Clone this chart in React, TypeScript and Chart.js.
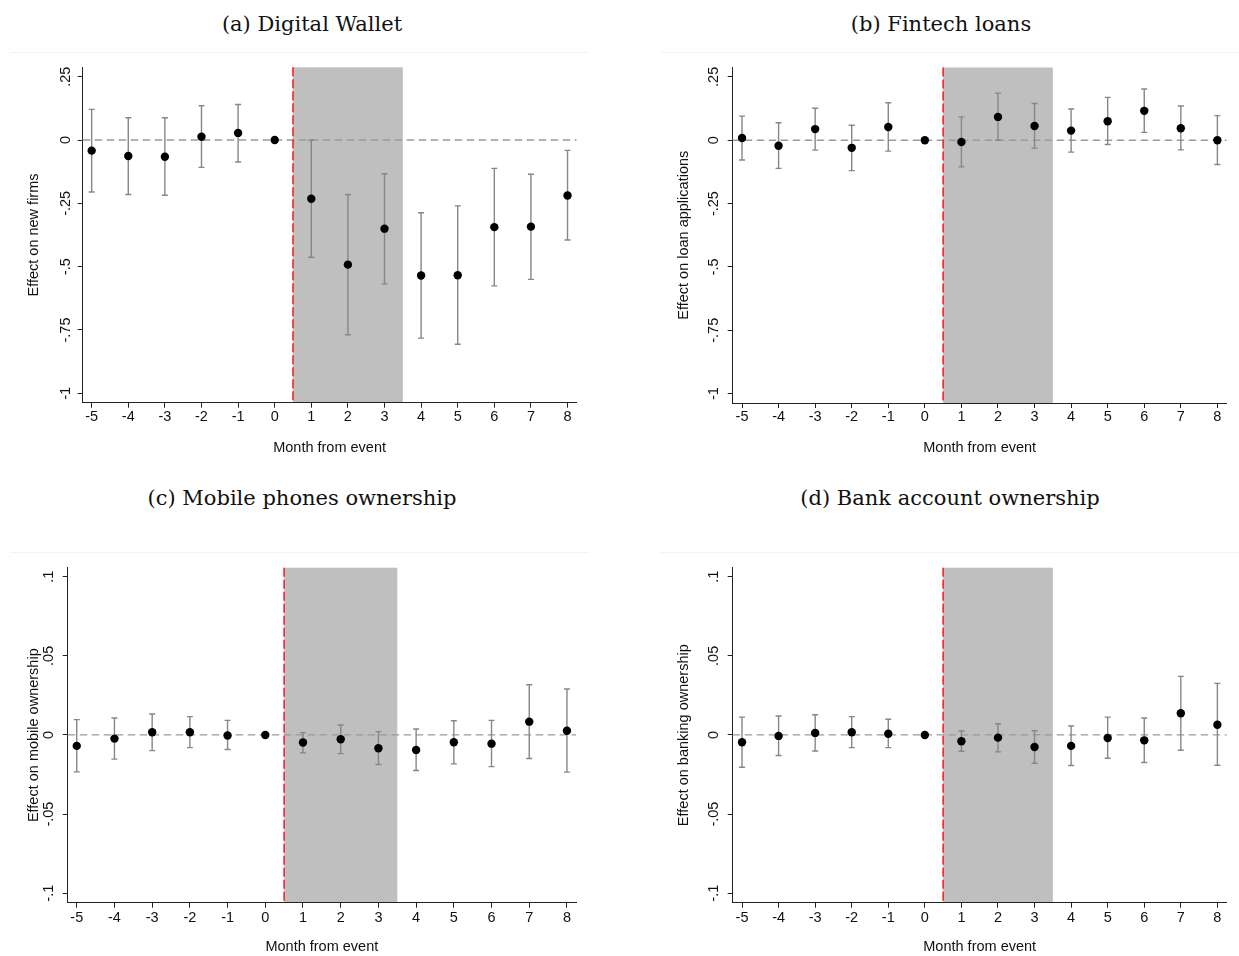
import React, { useEffect, useRef } from "react";
import { Chart, registerables } from "chart.js";

Chart.register(...registerables);

// ---------- data ----------
const months = [-5, -4, -3, -2, -1, 0, 1, 2, 3, 4, 5, 6, 7, 8];
const monthLabels = ["-5", "-4", "-3", "-2", "-1", "0", "1", "2", "3", "4", "5", "6", "7", "8"];
const shadeStart = 0.5;
const shadeEnd = 3.5;
const eventMonth = 0.5;

const yTicksWide = [0.25, 0, -0.25, -0.5, -0.75, -1];
const yTickLabelsWide = [".25", "0", "-.25", "-.5", "-.75", "-1"];
const yTicksNarrow = [0.1, 0.05, 0, -0.05, -0.1];
const yTickLabelsNarrow = [".1", ".05", "0", "-.05", "-.1"];

const walletCoef = [-0.042, -0.063, -0.066, 0.013, 0.028, 0, -0.232, -0.492, -0.35, -0.535, -0.534, -0.344, -0.342, -0.219];
const walletLower = [-0.205, -0.215, -0.218, -0.108, -0.087, null, -0.463, -0.769, -0.568, -0.782, -0.806, -0.576, -0.55, -0.395];
const walletUpper = [0.121, 0.088, 0.088, 0.135, 0.14, null, -0.001, -0.215, -0.133, -0.287, -0.26, -0.112, -0.135, -0.041];

const loanCoef = [0.009, -0.022, 0.044, -0.03, 0.052, 0, -0.007, 0.092, 0.056, 0.038, 0.075, 0.116, 0.047, 0.0];
const loanLower = [-0.078, -0.111, -0.039, -0.12, -0.043, null, -0.105, 0.0, -0.031, -0.047, -0.017, 0.031, -0.038, -0.096];
const loanUpper = [0.095, 0.069, 0.126, 0.059, 0.148, null, 0.092, 0.186, 0.145, 0.123, 0.169, 0.202, 0.135, 0.097];

const mobileCoef = [-0.0069, -0.0023, 0.0017, 0.0017, -0.0003, 0, -0.0048, -0.0027, -0.0084, -0.0095, -0.0046, -0.0055, 0.0084, 0.0027];
const mobileLower = [-0.0233, -0.0153, -0.0099, -0.008, -0.0092, null, -0.0113, -0.0118, -0.0187, -0.0225, -0.0183, -0.02, -0.0149, -0.0235];
const mobileUpper = [0.0097, 0.0107, 0.0132, 0.0116, 0.0092, null, 0.0015, 0.0063, 0.0021, 0.0038, 0.009, 0.0092, 0.0317, 0.029];

const bankCoef = [-0.0046, -0.0006, 0.0013, 0.0017, 0.0008, 0, -0.004, -0.0017, -0.0076, -0.0069, -0.0019, -0.0034, 0.0137, 0.0065];
const bankLower = [-0.0204, -0.013, -0.0101, -0.008, -0.008, null, -0.0103, -0.0107, -0.0179, -0.0193, -0.0147, -0.0174, -0.0097, -0.0191];
const bankUpper = [0.0113, 0.012, 0.0128, 0.0116, 0.0099, null, 0.0025, 0.0071, 0.0027, 0.0057, 0.0113, 0.0107, 0.037, 0.0326];

// ---------- styling / layout ----------
const SANS = '"Liberation Sans", Arial, sans-serif';
const SERIF = '"DejaVu Serif", serif';
const TICK_SIZE = 14.5;
const LABEL_SIZE = 14.5;
const TICK_LEN = 5;

type Spec = {
  key: string;
  title: string;
  titleX: number;
  titleY: number;
  sepY: number;
  sepX0: number;
  sepX1: number;
  canvas: { left: number; top: number; width: number; height: number };
  plot: { left: number; right: number; top: number; bottom: number };
  xMin: number;
  xMax: number;
  yMin: number;
  yMax: number;
  xTitleY: number;
  yTitleX: number;
  yLabelGap: number;
  xLabelGap: number;
  yLabel: string;
  yTicks: number[];
  yTickLabels: string[];
  coef: number[];
  lower: (number | null)[];
  upper: (number | null)[];
};

const specs: Spec[] = [
  {
    key: "a",
    title: "(a) Digital Wallet",
    titleX: 312,
    titleY: 23.5,
    sepY: 52,
    sepX0: 10,
    sepX1: 589,
    canvas: { left: 0, top: 56, width: 620, height: 410 },
    plot: { left: 82.7, right: 576.5, top: 67.3, bottom: 402.7 },
    xMin: -5.245,
    xMax: 8.245,
    yMin: -1.037,
    yMax: 0.287,
    xTitleY: 448,
    yTitleX: 33.8,
    yLabelGap: 16.5,
    xLabelGap: 14.5,
    yLabel: "Effect on new firms",
    yTicks: yTicksWide,
    yTickLabels: yTickLabelsWide,
    coef: walletCoef,
    lower: walletLower,
    upper: walletUpper,
  },
  {
    key: "b",
    title: "(b) Fintech loans",
    titleX: 941,
    titleY: 23.5,
    sepY: 52,
    sepX0: 660,
    sepX1: 1239,
    canvas: { left: 620, top: 56, width: 619, height: 410 },
    plot: { left: 732.7, right: 1226.7, top: 67.5, bottom: 403 },
    xMin: -5.255,
    xMax: 8.255,
    yMin: -1.037,
    yMax: 0.287,
    xTitleY: 448.3,
    yTitleX: 684,
    yLabelGap: 19,
    xLabelGap: 14,
    yLabel: "Effect on loan applications",
    yTicks: yTicksWide,
    yTickLabels: yTickLabelsWide,
    coef: loanCoef,
    lower: loanLower,
    upper: loanUpper,
  },
  {
    key: "c",
    title: "(c) Mobile phones ownership",
    titleX: 302,
    titleY: 498,
    sepY: 551.5,
    sepX0: 10,
    sepX1: 589,
    canvas: { left: 0, top: 556, width: 620, height: 400 },
    plot: { left: 67.7, right: 576, top: 567.7, bottom: 902.7 },
    xMin: -5.24,
    xMax: 8.24,
    yMin: -0.106,
    yMax: 0.1057,
    xTitleY: 947,
    yTitleX: 33.5,
    yLabelGap: 18.5,
    xLabelGap: 15.5,
    yLabel: "Effect on mobile ownership",
    yTicks: yTicksNarrow,
    yTickLabels: yTickLabelsNarrow,
    coef: mobileCoef,
    lower: mobileLower,
    upper: mobileUpper,
  },
  {
    key: "d",
    title: "(d) Bank account ownership",
    titleX: 950,
    titleY: 498,
    sepY: 551.5,
    sepX0: 660,
    sepX1: 1239,
    canvas: { left: 620, top: 556, width: 619, height: 400 },
    plot: { left: 732.7, right: 1226.7, top: 567.7, bottom: 902.7 },
    xMin: -5.255,
    xMax: 8.255,
    yMin: -0.106,
    yMax: 0.1057,
    xTitleY: 947,
    yTitleX: 684,
    yLabelGap: 18.5,
    xLabelGap: 15.5,
    yLabel: "Effect on banking ownership",
    yTicks: yTicksNarrow,
    yTickLabels: yTickLabelsNarrow,
    coef: bankCoef,
    lower: bankLower,
    upper: bankUpper,
  },
];

function Panel({ spec }: { spec: Spec }) {
  const ref = useRef<HTMLCanvasElement>(null);

  useEffect(() => {
    const canvas = ref.current;
    if (!canvas) return;
    const lh = LABEL_SIZE * 1.2;
    const tickLh = TICK_SIZE * 1.2;
    const meas = document.createElement("canvas").getContext("2d")!;
    meas.font = `${TICK_SIZE}px ${SANS}`;
    const widest = Math.max(...spec.yTickLabels.map((t) => meas.measureText(t).width));

    const cv = spec.canvas;
    const p = spec.plot;
    const yAxisWidth = p.left - cv.left;
    const xScaleBottom = spec.xTitleY + lh / 2;
    const xAxisHeight = xScaleBottom - p.bottom;
    const yTitlePad = spec.yTitleX - cv.left - lh / 2;
    const yTickPad = spec.yLabelGap - TICK_LEN - widest / 2;
    const xTickPad = spec.xLabelGap - TICK_LEN - tickLh / 2;

    const plugin = {
      id: "eventStudy" + spec.key,
      beforeDraw(chart: any) {
        const { ctx, chartArea, scales } = chart;
        const x0 = scales.x.getPixelForValue(shadeStart);
        const x1 = scales.x.getPixelForValue(shadeEnd);
        ctx.save();
        ctx.fillStyle = "#bfbfbf";
        ctx.fillRect(x0, chartArea.top, x1 - x0, chartArea.bottom - chartArea.top);
        ctx.restore();
      },
      beforeDatasetsDraw(chart: any) {
        const { ctx, chartArea, scales } = chart;
        const xs = scales.x;
        const ys = scales.y;
        ctx.save();
        // zero reference line
        const yz = ys.getPixelForValue(0);
        ctx.strokeStyle = "#9b9b9b";
        ctx.lineWidth = 1.3;
        ctx.setLineDash([7.5, 4.5]);
        ctx.beginPath();
        ctx.moveTo(chartArea.left, yz);
        ctx.lineTo(chartArea.right, yz);
        ctx.stroke();
        // event line
        const xe = xs.getPixelForValue(eventMonth);
        ctx.strokeStyle = "#f0262b";
        ctx.lineWidth = 1.6;
        ctx.setLineDash([9, 3]);
        ctx.beginPath();
        ctx.moveTo(xe, chartArea.top);
        ctx.lineTo(xe, chartArea.bottom);
        ctx.stroke();
        // error bars
        ctx.setLineDash([]);
        ctx.strokeStyle = "#878787";
        ctx.lineWidth = 1.4;
        months.forEach((m, i) => {
          const lo = spec.lower[i];
          const hi = spec.upper[i];
          if (lo === null || hi === null) return;
          const px = xs.getPixelForValue(m);
          const pl = ys.getPixelForValue(lo);
          const pu = ys.getPixelForValue(hi);
          ctx.beginPath();
          ctx.moveTo(px, pl);
          ctx.lineTo(px, pu);
          ctx.moveTo(px - 3, pl);
          ctx.lineTo(px + 3, pl);
          ctx.moveTo(px - 3, pu);
          ctx.lineTo(px + 3, pu);
          ctx.stroke();
        });
        ctx.restore();
      },
    };

    const chart = new Chart(canvas, {
      type: "scatter",
      data: {
        datasets: [
          {
            data: months.map((m, i) => ({ x: m, y: spec.coef[i] })),
            pointRadius: 4.2,
            pointHoverRadius: 4.2,
            pointBackgroundColor: "#000",
            pointBorderColor: "#000",
            pointBorderWidth: 0,
            showLine: false,
          },
        ],
      },
      options: {
        responsive: false,
        animation: false,
        events: [],
        layout: {
          padding: {
            left: 0,
            top: p.top - cv.top,
            right: cv.left + cv.width - p.right,
            bottom: cv.top + cv.height - xScaleBottom,
          },
        },
        plugins: {
          legend: { display: false },
          tooltip: { enabled: false },
          title: { display: false },
        },
        scales: {
          x: {
            type: "linear",
            position: "bottom",
            min: spec.xMin,
            max: spec.xMax,
            afterBuildTicks: (s: any) => {
              s.ticks = months.map((v) => ({ value: v }));
            },
            afterFit: (s: any) => {
              s.height = xAxisHeight;
              s.paddingLeft = 0;
              s.paddingRight = 0;
            },
            ticks: {
              autoSkip: false,
              padding: xTickPad,
              minRotation: 0,
              maxRotation: 0,
              color: "#111",
              font: { family: SANS, size: TICK_SIZE },
              callback: (v: any) => {
                const idx = months.findIndex((m) => Math.abs(m - Number(v)) < 1e-9);
                return idx >= 0 ? monthLabels[idx] : "";
              },
            },
            grid: {
              display: true,
              drawOnChartArea: false,
              drawTicks: true,
              tickLength: TICK_LEN,
              tickColor: "#222",
              tickWidth: 1,
            },
            border: { display: true, color: "#222", width: 1 },
            title: {
              display: true,
              text: "Month from event",
              color: "#111",
              font: { family: SANS, size: LABEL_SIZE, lineHeight: 1.2 },
              padding: { top: 0, bottom: 0 },
            },
          },
          y: {
            type: "linear",
            position: "left",
            min: spec.yMin,
            max: spec.yMax,
            afterBuildTicks: (s: any) => {
              s.ticks = [...spec.yTicks].sort((a, b) => a - b).map((v) => ({ value: v }));
            },
            afterFit: (s: any) => {
              s.width = yAxisWidth;
              s.paddingTop = 0;
              s.paddingBottom = 0;
            },
            ticks: {
              autoSkip: false,
              padding: yTickPad,
              minRotation: 90,
              maxRotation: 90,
              crossAlign: "center",
              color: "#111",
              font: { family: SANS, size: TICK_SIZE },
              callback: (v: any) => {
                const idx = spec.yTicks.findIndex((t) => Math.abs(t - Number(v)) < 1e-9);
                return idx >= 0 ? spec.yTickLabels[idx] : "";
              },
            },
            grid: {
              display: true,
              drawOnChartArea: false,
              drawTicks: true,
              tickLength: TICK_LEN,
              tickColor: "#222",
              tickWidth: 1,
            },
            border: { display: true, color: "#222", width: 1 },
            title: {
              display: true,
              text: spec.yLabel,
              color: "#111",
              font: { family: SANS, size: LABEL_SIZE, lineHeight: 1.2 },
              padding: { top: yTitlePad, bottom: 0 },
            },
          },
        },
      } as any,
      plugins: [plugin],
    });

    return () => chart.destroy();
  }, [spec]);

  const cv = spec.canvas;
  return (
    <canvas
      ref={ref}
      width={cv.width}
      height={cv.height}
      style={{ position: "absolute", left: cv.left, top: cv.top, width: cv.width, height: cv.height }}
    />
  );
}

export default function App() {
  return (
    <div
      style={{
        position: "absolute",
        left: 0,
        top: 0,
        width: 1239,
        height: 956,
        background: "#fff",
        overflow: "hidden",
      }}
    >
      {specs.map((s) => (
        <React.Fragment key={s.key}>
          <div
            style={{
              position: "absolute",
              left: s.titleX - 250,
              top: s.titleY - 15,
              width: 500,
              height: 30,
              lineHeight: "30px",
              textAlign: "center",
              fontFamily: SERIF,
              fontSize: 21,
              color: "#111",
              whiteSpace: "nowrap",
            }}
          >
            {s.title}
          </div>
          <div
            style={{
              position: "absolute",
              left: s.sepX0,
              top: s.sepY,
              width: s.sepX1 - s.sepX0,
              height: 1,
              background: "#edf5f5",
            }}
          />
          <Panel spec={s} />
        </React.Fragment>
      ))}
    </div>
  );
}
